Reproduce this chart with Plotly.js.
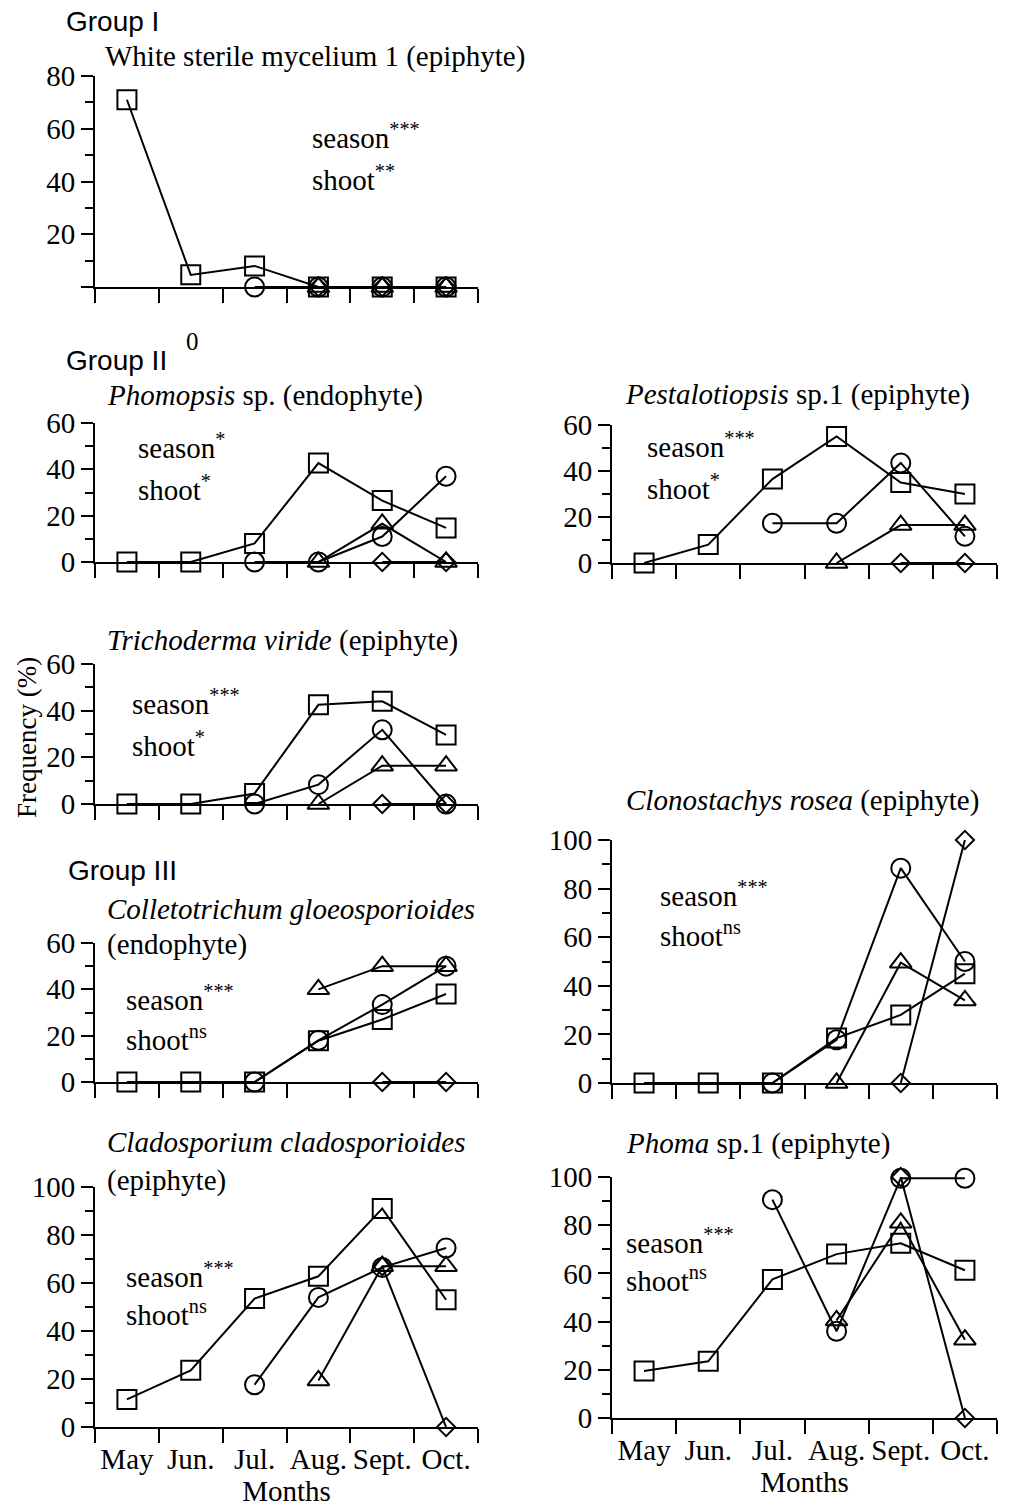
<!DOCTYPE html>
<html>
<head>
<meta charset="utf-8">
<script src="https://cdn.plot.ly/plotly-3.0.1.min.js"></script>
<style>html,body{margin:0;padding:0;background:#fff;}#chart{width:1010px;height:1507px;}</style>
</head>
<body>
<div id="chart"></div>
<script>
// ---------- DATA ----------
const months = ["May", "Jun.", "Jul.", "Aug.", "Sept.", "Oct."];

// Group I: White sterile mycelium 1 (epiphyte)
const white_square   = [71, 4.6, 8, 0, 0, 0];
const white_circle   = [null, null, 0, 0, 0, 0];
const white_triangle = [null, null, null, 0, 0, 0];
const white_diamond  = [null, null, null, 0, 0, 0];

// Phomopsis sp. (endophyte)
const phomopsis_square   = [0, 0, 8, 42.7, 26.5, 14.7];
const phomopsis_circle   = [null, null, 0, 0, 11, 37];
const phomopsis_triangle = [null, null, null, 0, 16.5, 0];
const phomopsis_diamond  = [null, null, null, null, 0, 0];

// Pestalotiopsis sp.1 (epiphyte)
const pestalo_square   = [0, 8, 36.5, 55, 35, 30];
const pestalo_circle   = [null, null, 17.3, 17.3, 43.5, 11.6];
const pestalo_triangle = [null, null, null, 0, 16.5, 16.5];
const pestalo_diamond  = [null, null, null, null, 0, 0];

// Trichoderma viride (epiphyte)
const tricho_square   = [0, 0, 4.5, 42.5, 44, 29.6];
const tricho_circle   = [null, null, 0, 8.3, 31.8, 0];
const tricho_triangle = [null, null, null, 0, 16.4, 16.4];
const tricho_diamond  = [null, null, null, null, 0, 0];

// Clonostachys rosea (epiphyte)
const clono_square   = [0, 0, 0, 18.5, 28, 45];
const clono_circle   = [null, null, 0, 17.8, 88.4, 50];
const clono_triangle = [null, null, null, 0, 49.5, 34];
const clono_diamond  = [null, null, null, null, 0, 100];

// Colletotrichum gloeosporioides (endophyte)
const colleto_square   = [0, 0, 0, 17.8, 27, 38];
const colleto_circle   = [null, null, 0, 18, 33.4, 50];
const colleto_triangle = [null, null, null, 40, 50, 50];
const colleto_diamond  = [null, null, null, null, 0, 0];

// Cladosporium cladosporioides (epiphyte)
const clado_square   = [11.5, 23.6, 53.5, 62.8, 91, 53];
const clado_circle   = [null, null, 17.6, 54, 66.5, 74.6];
const clado_triangle = [null, null, null, 19.4, 67, 67];
const clado_diamond  = [null, null, null, null, 67, 0];

// Phoma sp.1 (epiphyte)
const phoma_square   = [19.5, 23.5, 57.5, 68, 72.5, 61.3];
const phoma_circle   = [null, null, 90.6, 36, 99.5, 99.5];
const phoma_triangle = [null, null, null, 40.5, 81, 32.5];
const phoma_diamond  = [null, null, null, null, 100, 0];

// ---------- LAYOUT HELPERS ----------
const W = 1010, H = 1507;
const SERIF = "Liberation Serif, Times New Roman, serif";
const SANS = "Liberation Sans, Arial, sans-serif";
const FS = 29;
const px = x => x / W;
const py = y => 1 - y / H;

const LEFT = [95, 478], RIGHT = [612, 997];
const panels = [
  {col: LEFT,  top: 76,   bot: 287,  ymax: 80,  months: false, hideZero: true,
   s: [white_square, white_circle, white_triangle, white_diamond]},
  {col: LEFT,  top: 423,  bot: 562,  ymax: 60,  months: false,
   s: [phomopsis_square, phomopsis_circle, phomopsis_triangle, phomopsis_diamond]},
  {col: RIGHT, top: 425,  bot: 563,  ymax: 60,  months: false,
   s: [pestalo_square, pestalo_circle, pestalo_triangle, pestalo_diamond]},
  {col: LEFT,  top: 664,  bot: 804,  ymax: 60,  months: false,
   s: [tricho_square, tricho_circle, tricho_triangle, tricho_diamond]},
  {col: RIGHT, top: 840,  bot: 1083, ymax: 100, months: false,
   s: [clono_square, clono_circle, clono_triangle, clono_diamond]},
  {col: LEFT,  top: 943,  bot: 1082, ymax: 60,  months: false,
   s: [colleto_square, colleto_circle, colleto_triangle, colleto_diamond]},
  {col: LEFT,  top: 1187, bot: 1427, ymax: 100, months: true,
   s: [clado_square, clado_circle, clado_triangle, clado_diamond]},
  {col: RIGHT, top: 1177, bot: 1418, ymax: 100, months: true,
   s: [phoma_square, phoma_circle, phoma_triangle, phoma_diamond]},
];

const symbols = [
  {symbol: "square-open", size: 19},
  {symbol: "circle-open", size: 19},
  {symbol: "triangle-up-open", size: 19},
  {symbol: "diamond-open", size: 14},
];

const xIdx = months.map((m, i) => i);
const boundaries = [];
for (let i = 0; i <= months.length; i++) boundaries.push(i - 0.5);

const traces = [];
const layout = {
  width: W, height: H,
  margin: {l: 0, r: 0, t: 0, b: 0, pad: 0},
  paper_bgcolor: "#fff", plot_bgcolor: "rgba(0,0,0,0)",
  showlegend: false,
  font: {family: SERIF, size: FS, color: "#000"},
  annotations: []
};

panels.forEach((p, k) => {
  const n = k + 1;
  const xa = "x" + (n === 1 ? "" : n), ya = "y" + (n === 1 ? "" : n);
  p.s.forEach((vals, j) => {
    traces.push({
      type: "scatter", mode: "lines+markers",
      x: xIdx, y: vals, xaxis: xa, yaxis: ya,
      cliponaxis: false, connectgaps: false, hoverinfo: "skip",
      line: {color: "#000", width: 2},
      marker: {symbol: symbols[j].symbol, size: symbols[j].size, color: "#000", line: {color: "#000", width: 2}}
    });
  });
  const majors = [], minors = [];
  for (let v = 0; v <= p.ymax; v += 20) majors.push(v);
  for (let v = 10; v < p.ymax; v += 20) minors.push(v);
  const xaxis = {
    domain: [px(p.col[0]), px(p.col[1])], anchor: ya,
    range: [-0.5, months.length - 0.5], fixedrange: true,
    showline: true, linecolor: "#000", linewidth: 2, mirror: false,
    showgrid: false, zeroline: false,
    tickmode: "array", tickvals: xIdx, ticktext: months,
    showticklabels: p.months,
    ticks: "outside", ticklen: 5, tickcolor: "rgba(0,0,0,0)", tickwidth: 2,
    tickfont: {family: SERIF, size: FS, color: "#000"},
    minor: {tickmode: "array", tickvals: boundaries, ticks: "outside", ticklen: 14, tickwidth: 2, tickcolor: "#000", showgrid: false}
  };
  if (p.months) {
    xaxis.title = {text: "Months", font: {family: SERIF, size: FS, color: "#000"}, standoff: 4};
  }
  const yaxis = {
    domain: [py(p.bot), py(p.top)], anchor: xa,
    range: [0, p.ymax], fixedrange: true,
    showline: true, linecolor: "#000", linewidth: 2,
    showgrid: false, zeroline: false,
    tickmode: "array", tickvals: majors,
    ticktext: majors.map(v => (p.hideZero && v === 0) ? "" : String(v)),
    ticks: "outside", ticklen: 12, tickwidth: 2, tickcolor: "#000",
    tickfont: {family: SERIF, size: FS, color: "#000"},
    minor: {tickmode: "array", tickvals: minors, ticks: "outside", ticklen: 8, tickwidth: 2, tickcolor: "#000", showgrid: false}
  };
  layout["xaxis" + (n === 1 ? "" : n)] = xaxis;
  layout["yaxis" + (n === 1 ? "" : n)] = yaxis;
});

function txt(text, x, y, opts) {
  layout.annotations.push(Object.assign({
    text: text, xref: "paper", yref: "paper", x: px(x), y: py(y),
    xanchor: "left", yanchor: "middle", showarrow: false,
    font: {family: SERIF, size: FS, color: "#000"}
  }, opts || {}));
}
const sans = {font: {family: SANS, size: 28, color: "#000"}};

// group labels
txt("Group I", 64, 22, sans);
txt("Group II", 64, 360, sans);
txt("Group III", 66, 870, sans);
txt("0", 184, 341, {font: {family: SERIF, size: 25, color: "#000"}});

// panel titles
txt("White sterile mycelium 1 (epiphyte)", 103, 57);
txt("<i>Phomopsis</i> sp. (endophyte)", 105, 395);
txt("<i>Pestalotiopsis</i> sp.1 (epiphyte)", 623, 394);
txt("<i>Trichoderma viride</i> (epiphyte)", 105, 640);
txt("<i>Clonostachys rosea</i> (epiphyte)", 624, 800);
txt("<i>Colletotrichum gloeosporioides</i>", 105, 909);
txt("(endophyte)", 105, 944);
txt("<i>Cladosporium cladosporioides</i>", 105, 1142);
txt("(epiphyte)", 105, 1180);
txt("<i>Phoma</i> sp.1 (epiphyte)", 624, 1143);

// statistics
const stats = [
  ["season<sup>***</sup>", 310, 136, "shoot<sup>**</sup>", 178],
  ["season<sup>*</sup>", 136, 446, "shoot<sup>*</sup>", 488],
  ["season<sup>***</sup>", 645, 445, "shoot<sup>*</sup>", 487],
  ["season<sup>***</sup>", 130, 702, "shoot<sup>*</sup>", 744],
  ["season<sup>***</sup>", 658, 894, "shoot<sup>ns</sup>", 934],
  ["season<sup>***</sup>", 124, 998, "shoot<sup>ns</sup>", 1038],
  ["season<sup>***</sup>", 124, 1275, "shoot<sup>ns</sup>", 1313],
  ["season<sup>***</sup>", 624, 1241, "shoot<sup>ns</sup>", 1279],
];
stats.forEach(s => { txt(s[0], s[1], s[2]); txt(s[3], s[1], s[4]); });

// y-axis title
layout.annotations.push({
  text: "Frequency (%)", xref: "paper", yref: "paper", x: px(27), y: py(738),
  xanchor: "center", yanchor: "middle", textangle: -90, showarrow: false,
  font: {family: SERIF, size: 27, color: "#000"}
});

Plotly.newPlot("chart", traces, layout, {staticPlot: true, displayModeBar: false});
</script>
</body>
</html>
